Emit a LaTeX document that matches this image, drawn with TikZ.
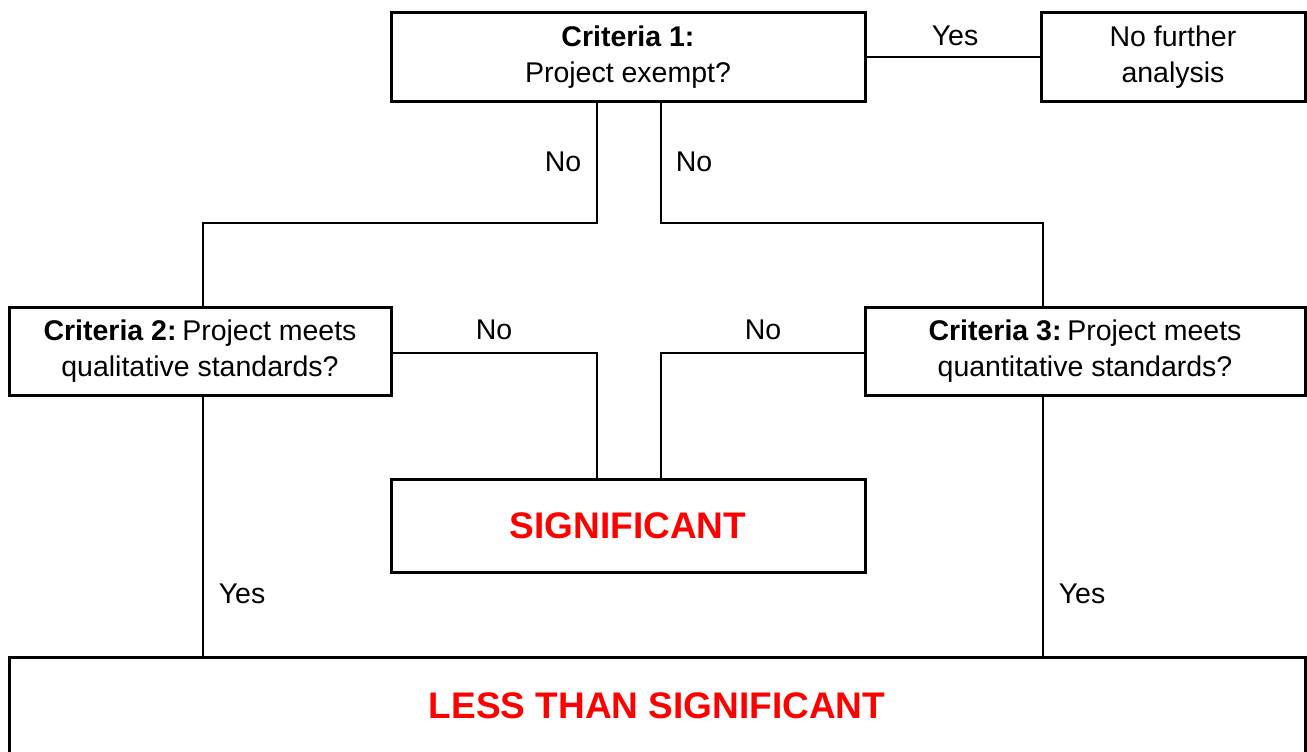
\documentclass[tikz,border=0pt]{standalone}
\usepackage{fontspec}
\setmainfont{Liberation Sans}
\definecolor{sigred}{RGB}{255,0,0}
\begin{document}
\begin{tikzpicture}[x=1pt,y=-1pt,
  box/.style={draw,line width=3pt,inner sep=0pt,align=center,font=\fontsize{28.5}{36}\selectfont},
  big/.style={box,text=sigred,font=\fontsize{37}{44}\selectfont\bfseries},
  conn/.style={line width=2pt},
  lbl/.style={inner sep=0pt,font=\fontsize{28.5}{36}\selectfont}]
\clip (0,0) rectangle (1307,752);
\node[box,minimum width=474,minimum height=88] (c1) at (628,57) {\textbf{Criteria 1:}\\Project exempt?};
\node[box,minimum width=264,minimum height=88] (nf) at (1173,57) {No further\\analysis};
\node[box,minimum width=382,minimum height=88] (c2) at (200,351) {\textbf{Criteria 2:}\hspace{0.2em}Project meets\\qualitative standards?};
\node[box,minimum width=440,minimum height=88] (c3) at (1085,351) {\textbf{Criteria 3:}\hspace{0.2em}Project meets\\quantitative standards?};
\node[big,minimum width=474,minimum height=93] (sig) at (628,525.5) {SIGNIFICANT};
\node[big,minimum width=1296,minimum height=98] (less) at (657,706) {LESS THAN SIGNIFICANT};

\draw[conn] (c1.east) -- (nf.west);
\draw[conn] ([xshift=-31]c1.south) -- ++(0,120) -| ([xshift=3]c2.north);
\draw[conn] ([xshift=33]c1.south) -- ++(0,120) -| ([xshift=-42]c3.north);
\draw[conn] ([yshift=-2]c2.east) -| ([xshift=-31]sig.north);
\draw[conn] ([yshift=-2]c3.west) -| ([xshift=33]sig.north);
\draw[conn] ([xshift=3]c2.south) -- ([xshift=3]c2.south |- less.north);
\draw[conn] ([xshift=-42]c3.south) -- ([xshift=-42]c3.south |- less.north);

\node[lbl] (ly1) at (955,36) {Yes};
\node[lbl] (ln1) at (563,162) {No};
\node[lbl] (ln2) at (694,162) {No};
\node[lbl] (ln3) at (494,330) {No};
\node[lbl] (ln4) at (763,330) {No};
\node[lbl] (ly2) at (242,594) {Yes};
\node[lbl] (ly3) at (1082,594) {Yes};
\end{tikzpicture}
\end{document}
